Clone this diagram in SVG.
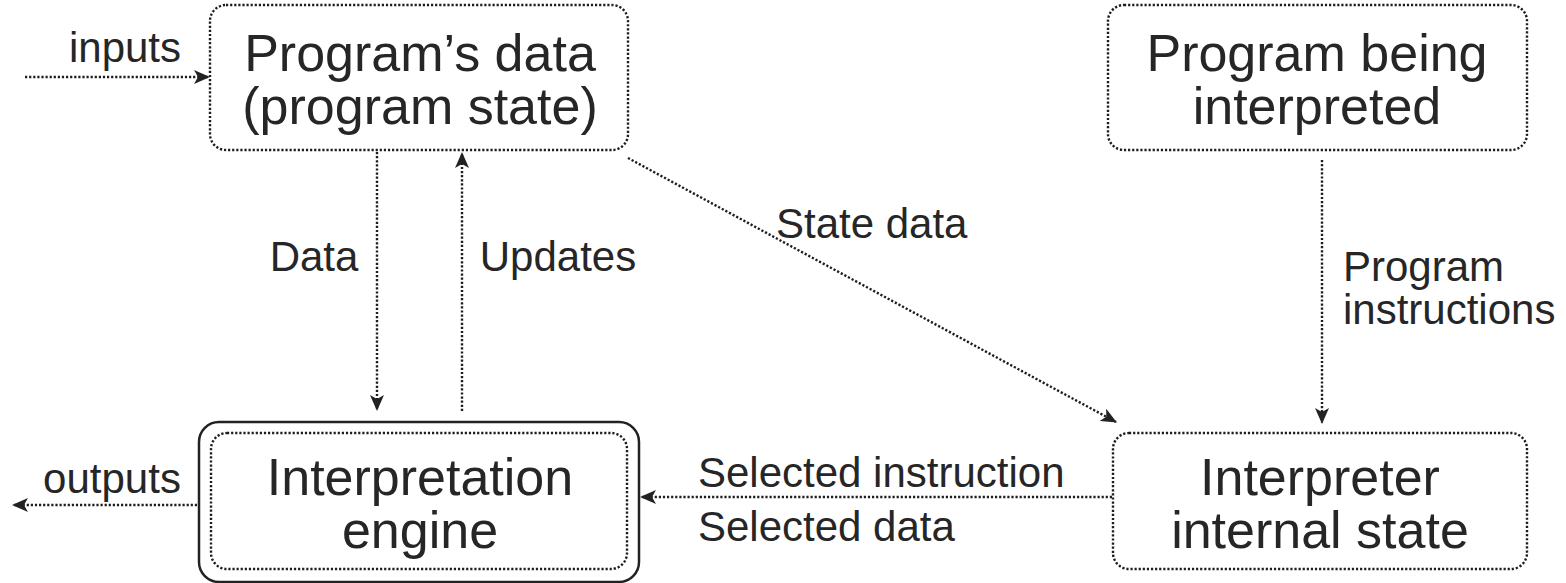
<svg xmlns="http://www.w3.org/2000/svg" width="1566" height="583" viewBox="0 0 1566 583">
<style>
  .box { fill: none; stroke: #1e1e1e; stroke-width: 2.4; stroke-dasharray: 2.2 1.9; }
  .solid { fill: none; stroke: #222; stroke-width: 2.5; }
  .conn { fill: none; stroke: #1e1e1e; stroke-width: 2.4; stroke-dasharray: 2.2 1.9; }
  .big { font-family: "Liberation Sans", Arial, sans-serif; font-size: 52px; fill: #262626; text-anchor: middle; }
  .lbl { font-family: "Liberation Sans", Arial, sans-serif; font-size: 42px; fill: #262626; }
</style>
<defs>
  <marker id="arr" markerUnits="userSpaceOnUse" markerWidth="16" markerHeight="14" viewBox="0 0 16 14" refX="15" refY="7" orient="auto">
    <path d="M0,0 L16,7 L0,14 L4,7 Z" fill="#222"/>
  </marker>
</defs>
<rect width="1566" height="583" fill="#ffffff"/>

<g id="connectors">
  <line class="conn" x1="25" y1="77" x2="209" y2="77" marker-end="url(#arr)"/>
  <line class="conn" x1="197" y1="505" x2="13" y2="505" marker-end="url(#arr)"/>
  <line class="conn" x1="377" y1="152" x2="377" y2="410" marker-end="url(#arr)"/>
  <line class="conn" x1="462" y1="411" x2="462" y2="153" marker-end="url(#arr)"/>
  <line class="conn" x1="628" y1="158" x2="1116" y2="422" marker-end="url(#arr)"/>
  <line class="conn" x1="1322" y1="160" x2="1322" y2="423" marker-end="url(#arr)"/>
  <line class="conn" x1="1112" y1="497" x2="641" y2="497" marker-end="url(#arr)"/>
  <text class="lbl" x="125" y="62" text-anchor="middle">inputs</text>
  <text class="lbl" x="112" y="493" text-anchor="middle">outputs</text>
  <text class="lbl" x="314" y="271" text-anchor="middle">Data</text>
  <text class="lbl" x="558" y="271" text-anchor="middle">Updates</text>
  <text class="lbl" x="776" y="238">State data</text>
  <text class="lbl" x="1343" y="281">Program</text>
  <text class="lbl" x="1343" y="324">instructions</text>
  <text class="lbl" x="698" y="487">Selected instruction</text>
  <text class="lbl" x="698" y="541">Selected data</text>
</g>

<g id="program-data">
  <rect class="box" x="210" y="5" width="418" height="145" rx="16"/>
  <text class="big" x="420" y="71">Program’s data</text>
  <text class="big" x="420" y="124">(program state)</text>
</g>

<g id="program-being-interpreted">
  <rect class="box" x="1108" y="5" width="419" height="145" rx="16"/>
  <text class="big" x="1317" y="71">Program being</text>
  <text class="big" x="1317" y="124">interpreted</text>
</g>

<g id="interpretation-engine">
  <rect class="solid" x="199" y="422" width="440" height="160" rx="20"/>
  <rect class="box" x="211" y="433" width="416" height="136" rx="16"/>
  <text class="big" x="420" y="495">Interpretation</text>
  <text class="big" x="420" y="548">engine</text>
</g>

<g id="interpreter-internal-state">
  <rect class="box" x="1113" y="433" width="414" height="136" rx="16"/>
  <text class="big" x="1320" y="495">Interpreter</text>
  <text class="big" x="1320" y="548">internal state</text>
</g>
</svg>
